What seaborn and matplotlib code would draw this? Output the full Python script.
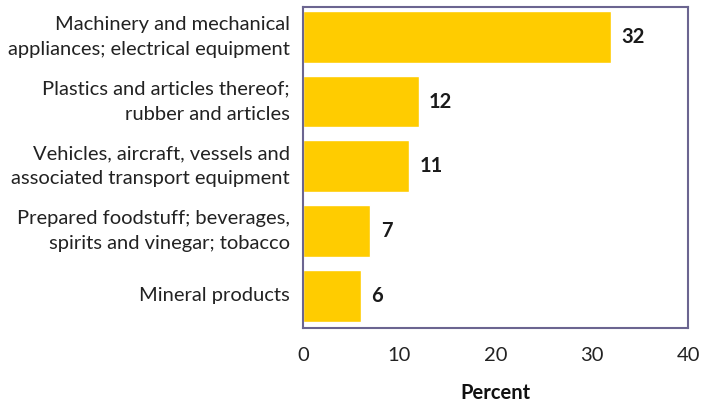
import matplotlib
matplotlib.use("Agg")
import matplotlib.pyplot as plt
import seaborn as sns
import pandas as pd

categories = [
    "Machinery and mechanical\nappliances; electrical equipment",
    "Plastics and articles thereof;\nrubber and articles",
    "Vehicles, aircraft, vessels and\nassociated transport equipment",
    "Prepared foodstuff; beverages,\nspirits and vinegar; tobacco",
    "Mineral products",
]
shares = [32, 12, 11, 7, 6]
x_ticks = [0, 10, 20, 30, 40]

sns.set_theme(style="white")
plt.rcParams["font.family"] = ["Lato", "DejaVu Sans"]

df = pd.DataFrame({"category": categories, "share": shares})

fig = plt.figure(figsize=(7.05, 4.03), dpi=100)
ax = fig.add_axes([0.4298, 0.186, 0.5462, 0.7966])

sns.barplot(data=df, x="share", y="category", color="#FFCC00",
            saturation=1, width=0.8, ax=ax)

for i, v in enumerate(shares):
    ax.annotate(f"{v}", xy=(v, i), xytext=(7.5, 0), textcoords="offset points",
                ha="left", va="center", fontsize=14.5, fontweight="bold",
                color="#1a1a1a")

ax.set_xlim(0, 40)
ax.set_ylim(4.5, -0.46)
ax.set_xticks(x_ticks)
ax.set_xticklabels([str(t) for t in x_ticks])
ax.set_yticks(range(len(categories)))
ax.set_yticklabels(categories, linespacing=1.6, va="center")
ax.tick_params(axis="both", length=0, labelsize=14.5, colors="#222222")
ax.tick_params(axis="x", pad=14)
ax.tick_params(axis="y", pad=9.5)
ax.set_ylabel("")
ax.set_xlabel("Percent", fontsize=14.5, fontweight="bold", color="#111111",
              labelpad=13)

for s in ax.spines.values():
    s.set_visible(True)
    s.set_color("#6B6590")
    s.set_linewidth(1.5)

fig.savefig("out.png", dpi=100)
